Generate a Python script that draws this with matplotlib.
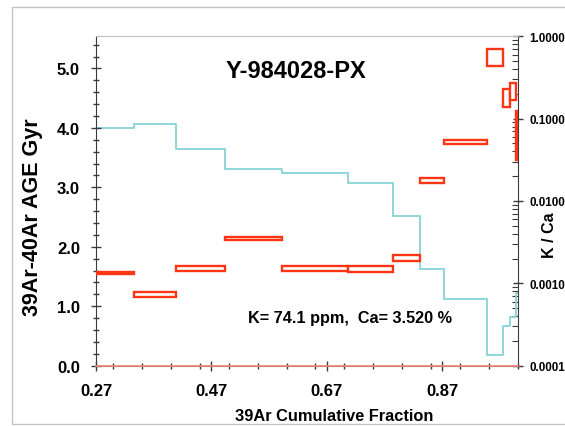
import matplotlib
matplotlib.use("Agg")
import matplotlib.pyplot as plt
import numpy as np
from matplotlib.patches import Rectangle
from matplotlib.ticker import MultipleLocator, LogLocator, FormatStrFormatter, NullFormatter

plt.rcParams['font.family'] = ['Liberation Sans', 'DejaVu Sans']
plt.rcParams['font.weight'] = 'bold'

# ---- data ----
frac_edges = [0.27, 0.335, 0.408, 0.494, 0.592, 0.707, 0.784, 0.831, 0.873,
              0.948, 0.975, 0.987, 0.997, 1.0]
age = [1.558, 1.205, 1.637, 2.146, 1.637, 1.625, 1.805, 3.11, 3.76,
       5.18, 4.50, 4.61, 3.87]
age_err = [0.017, 0.042, 0.039, 0.025, 0.039, 0.045, 0.05, 0.042, 0.034,
           0.14, 0.157, 0.143, 0.41]
k_ca = [0.0774, 0.0867, 0.0434, 0.0242, 0.0218, 0.01663, 0.00664, 0.00150,
        0.000646, 0.000136, 0.000305, 0.000389, 0.000774]
x_ticks = [0.27, 0.47, 0.67, 0.87]
x_tick_labels = ["0.27", "0.47", "0.67", "0.87"]
title = "Y-984028-PX"
note = "K= 74.1 ppm,  Ca= 3.520 %"

W, H = 565, 427
fig = plt.figure(figsize=(W / 100, H / 100), dpi=100)

# outer gray frame
fig.patches.append(Rectangle((11.5 / W, 2 / H), 1.2, (425 - 8) / H,
                             transform=fig.transFigure, fill=False,
                             edgecolor='#c4c4c4', lw=1.0))

left, right = 96 / W, 517.5 / W
bottom, top = (H - 366.7) / H, (H - 37.3) / H
ax = fig.add_axes([left, bottom, right - left, top - bottom])
ax2 = ax.twinx()
ax.set_zorder(ax2.get_zorder() + 1)
ax.patch.set_visible(False)

# K/Ca step line
ax2.set_yscale('log')
kx = np.array(frac_edges)
ky = np.array(k_ca + [k_ca[-1]])
ax2.step(kx, ky, where='post', color='#86d2d8', lw=1.3)
ax2.set_ylim(1e-4, 1.0)
ax2.set_xlim(0.27, 1.0)

# age boxes
red = '#ff3514'
for i in range(len(age)):
    x0, x1 = frac_edges[i], frac_edges[i + 1]
    ax.add_patch(Rectangle((x0, age[i] - age_err[i]), x1 - x0, 2 * age_err[i],
                           facecolor='white', edgecolor=red, lw=1.7, zorder=3))

ax.set_xlim(0.27, 1.0)
ax.set_ylim(0, 5.54)

# axes spines
ax.spines['top'].set_color('#c0c0c0')
ax.spines['left'].set_color('#3a3a3a')
ax.spines['right'].set_visible(False)
ax.spines['bottom'].set_color('#707070')
ax2.spines['top'].set_visible(False)
ax2.spines['left'].set_visible(False)
ax2.spines['bottom'].set_visible(False)
ax2.spines['right'].set_color('#3a3a3a')
ax.axhline(0, color='#f08070', lw=1.2, zorder=4, clip_on=False)

# ticks
ax.set_xticks(x_ticks)
ax.set_xticklabels(x_tick_labels)
ax.xaxis.set_minor_locator(MultipleLocator(0.05))
ax.yaxis.set_major_locator(MultipleLocator(1.0))
ax.yaxis.set_minor_locator(MultipleLocator(0.2))
ax.yaxis.set_major_formatter(FormatStrFormatter('%.1f'))
ax.tick_params(axis='both', which='major', direction='inout', length=7,
               width=1.0, color='#3a3a3a', labelsize=12)
ax.tick_params(axis='both', which='minor', direction='inout', length=5,
               width=1.0, color='#3a3a3a')
ax.tick_params(axis='x', which='major', pad=9)
ax.tick_params(axis='y', which='major', pad=8)
ax.tick_params(top=False, right=False, which='both')

ax2.yaxis.set_major_locator(LogLocator(base=10, numticks=10))
ax2.yaxis.set_minor_locator(LogLocator(base=10, subs=np.arange(2, 10), numticks=10))
ax2.yaxis.set_major_formatter(FormatStrFormatter('%.4f'))
ax2.yaxis.set_minor_formatter(NullFormatter())
ax2.tick_params(axis='y', which='major', direction='inout', length=7, width=1.0,
                color='#3a3a3a', labelsize=8.4, pad=5)
ax2.tick_params(axis='y', which='minor', direction='in', length=4, width=0.8,
                color='#3a3a3a')
ax2.tick_params(axis='x', which='both', bottom=False, top=False, labelbottom=False)

# texts
fig.text(296 / W, 1 - 71 / H, title, ha='center', va='center',
         fontsize=17, fontweight='bold')
fig.text(350 / W, 1 - 318 / H, note, ha='center', va='center',
         fontsize=11.7, fontweight='bold')
fig.text(33 / W, 1 - 217 / H, "39Ar-40Ar AGE Gyr", rotation=90, ha='center',
         va='center', fontsize=15.5, fontweight='bold')
fig.text(334 / W, 1 - 417 / H, "39Ar Cumulative Fraction", ha='center',
         va='center', fontsize=11.8, fontweight='bold')
fig.text(549 / W, 1 - 235 / H, "K / Ca", rotation=90, ha='center',
         va='center', fontsize=11.5, fontweight='bold')

fig.savefig("out.png", dpi=100)
